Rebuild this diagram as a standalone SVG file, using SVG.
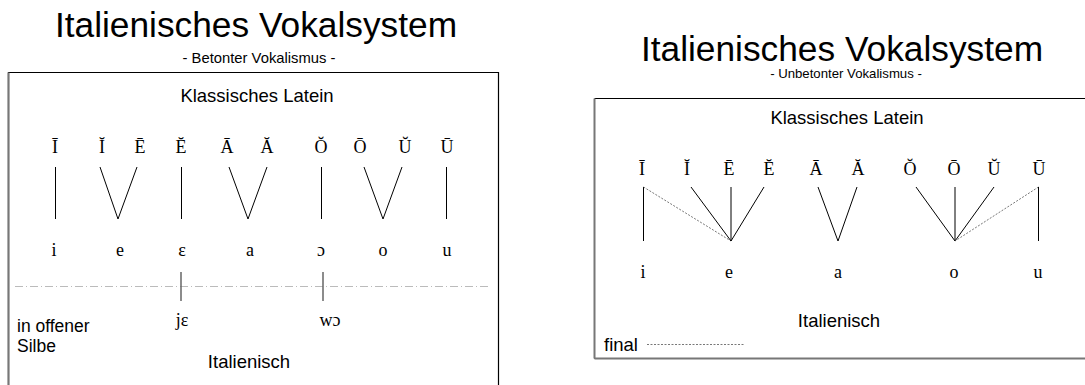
<svg xmlns="http://www.w3.org/2000/svg" width="1085" height="385" viewBox="0 0 1085 385">
<style>
.title{font-family:"Liberation Sans",Arial,sans-serif;font-size:35.3px;fill:#000;text-anchor:middle}
.sub{font-family:"Liberation Sans",Arial,sans-serif;font-size:14.8px;fill:#000;text-anchor:middle}
.sub2{font-family:"Liberation Sans",Arial,sans-serif;font-size:13.2px;fill:#000;text-anchor:middle}
.lbl{font-family:"Liberation Sans",Arial,sans-serif;font-size:18.5px;fill:#000}
.sm{font-size:17.5px}
.mid{text-anchor:middle}
.ser{font-family:"Liberation Serif","Times New Roman",serif;font-size:18px;fill:#000;text-anchor:middle}
.ln{stroke:#000;stroke-width:1;fill:none}
.dot{stroke:#555;stroke-width:0.8;stroke-dasharray:2,1.5;fill:none}
.dash{stroke:#aaa;stroke-width:0.8;stroke-dasharray:8,3,1,3;fill:none}
.gl{stroke:#666;stroke-width:1.5;fill:none}
</style>
<rect width="1085" height="385" fill="#fff"/>
<!-- Left panel -->
<g id="left-title">
<text class="title" x="256" y="37">Italienisches Vokalsystem</text>
<text class="sub" x="259" y="63">- Betonter Vokalismus -</text>
</g>
<g id="left-box">
<path d="M8.5 395 V72.5 H498.5 V395" stroke="#000" stroke-width="1.2" fill="none"/>
<line x1="8.5" y1="72.5" x2="8.5" y2="395" stroke="#777" stroke-width="2"/>
</g>
<g id="left-latein"><text class="lbl mid" x="257" y="102">Klassisches Latein</text></g>
<g id="L-I-long"><text class="ser" x="55" y="153">Ī</text></g>
<g id="L-I-short"><text class="ser" x="102" y="153">Ĭ</text></g>
<g id="L-E-long"><text class="ser" x="140" y="153">Ē</text></g>
<g id="L-E-short"><text class="ser" x="181" y="153">Ĕ</text></g>
<g id="L-A-long"><text class="ser" x="227" y="153">Ā</text></g>
<g id="L-A-short"><text class="ser" x="267" y="153">Ă</text></g>
<g id="L-O-short"><text class="ser" x="321" y="153">Ŏ</text></g>
<g id="L-O-long"><text class="ser" x="360" y="153">Ō</text></g>
<g id="L-U-short"><text class="ser" x="405" y="153">Ŭ</text></g>
<g id="L-U-long"><text class="ser" x="447" y="153">Ū</text></g>
<g id="L-i"><text class="ser" x="54" y="256">i</text></g>
<g id="L-e"><text class="ser" x="120" y="256">e</text></g>
<g id="L-eps"><text class="ser" x="182" y="256">ε</text></g>
<g id="L-a"><text class="ser" x="250" y="256">a</text></g>
<g id="L-oo"><text class="ser" x="321" y="256">ɔ</text></g>
<g id="L-o"><text class="ser" x="383" y="256">o</text></g>
<g id="L-u"><text class="ser" x="447" y="256">u</text></g>
<g id="L-je"><text class="ser" x="182" y="326">jε</text></g>
<g id="L-wo"><text class="ser" x="330" y="326">wɔ</text></g>
<g id="L-offen"><text class="lbl sm" x="17" y="331.5">in offener</text><text class="lbl sm" x="17" y="351.5">Silbe</text></g>
<g id="L-ital"><text class="lbl mid" x="249" y="368">Italienisch</text></g>
<!-- Right panel -->
<g id="right-title">
<text class="title" x="842" y="61">Italienisches Vokalsystem</text>
<text class="sub2" x="846" y="78">- Unbetonter Vokalismus -</text>
</g>
<g id="right-box">
<path d="M594.5 98.5 H1095 M594.5 358.5 H1095" stroke="#000" stroke-width="1.2" fill="none"/>
<line x1="594.5" y1="98.5" x2="594.5" y2="358.5" stroke="#777" stroke-width="2"/>
<line x1="594.5" y1="358.5" x2="1095" y2="358.5" stroke="#777" stroke-width="2"/>
</g>
<g id="right-latein"><text class="lbl mid" x="847" y="124">Klassisches Latein</text></g>
<g id="R-I-long"><text class="ser" x="642" y="175">Ī</text></g>
<g id="R-I-short"><text class="ser" x="687" y="175">Ĭ</text></g>
<g id="R-E-long"><text class="ser" x="729" y="175">Ē</text></g>
<g id="R-E-short"><text class="ser" x="769" y="175">Ĕ</text></g>
<g id="R-A-long"><text class="ser" x="816" y="175">Ā</text></g>
<g id="R-A-short"><text class="ser" x="858" y="175">Ă</text></g>
<g id="R-O-short"><text class="ser" x="910" y="175">Ŏ</text></g>
<g id="R-O-long"><text class="ser" x="954" y="175">Ō</text></g>
<g id="R-U-short"><text class="ser" x="994" y="175">Ŭ</text></g>
<g id="R-U-long"><text class="ser" x="1039" y="175">Ū</text></g>
<g id="R-i"><text class="ser" x="643" y="278">i</text></g>
<g id="R-e"><text class="ser" x="729" y="278">e</text></g>
<g id="R-a"><text class="ser" x="838" y="278">a</text></g>
<g id="R-o"><text class="ser" x="954" y="278">o</text></g>
<g id="R-u"><text class="ser" x="1038" y="278">u</text></g>
<g id="R-ital"><text class="lbl mid" x="839" y="327">Italienisch</text></g>
<g id="R-final"><text class="lbl" x="604" y="351">final</text></g>
<!-- Connectors -->
<g id="connectors">
<line class="ln" x1="55.5" y1="167" x2="55.5" y2="219"/>
<polyline class="ln" points="100,167 118,219 137,167"/>
<line class="ln" x1="181.5" y1="167" x2="181.5" y2="219"/>
<polyline class="ln" points="229,167 248,219 267,167"/>
<line class="ln" x1="321.5" y1="167" x2="321.5" y2="219"/>
<polyline class="ln" points="364,167 383,219 402,167"/>
<line class="ln" x1="446.5" y1="167" x2="446.5" y2="219"/>
<line class="dash" x1="15" y1="286.5" x2="488" y2="286.5"/>
<line class="gl" x1="181" y1="272" x2="181" y2="301"/>
<line class="gl" x1="323" y1="272" x2="323" y2="301"/>
<line class="ln" x1="643.5" y1="187" x2="643.5" y2="241"/>
<line class="dot" x1="643.5" y1="187" x2="731" y2="241"/>
<line class="ln" x1="691" y1="187" x2="731" y2="241"/>
<line class="ln" x1="731" y1="187" x2="731" y2="241"/>
<line class="ln" x1="764" y1="187" x2="731" y2="241"/>
<polyline class="ln" points="818,187 838,241 857,187"/>
<line class="ln" x1="916" y1="187" x2="955" y2="241"/>
<line class="ln" x1="955" y1="187" x2="955" y2="241"/>
<line class="ln" x1="994" y1="187" x2="955" y2="241"/>
<line class="dot" x1="1038.5" y1="187" x2="955" y2="241"/>
<line class="ln" x1="1038.5" y1="187" x2="1038.5" y2="241"/>
<line class="dot" x1="647" y1="344.5" x2="744" y2="344.5"/>
</g>
</svg>
